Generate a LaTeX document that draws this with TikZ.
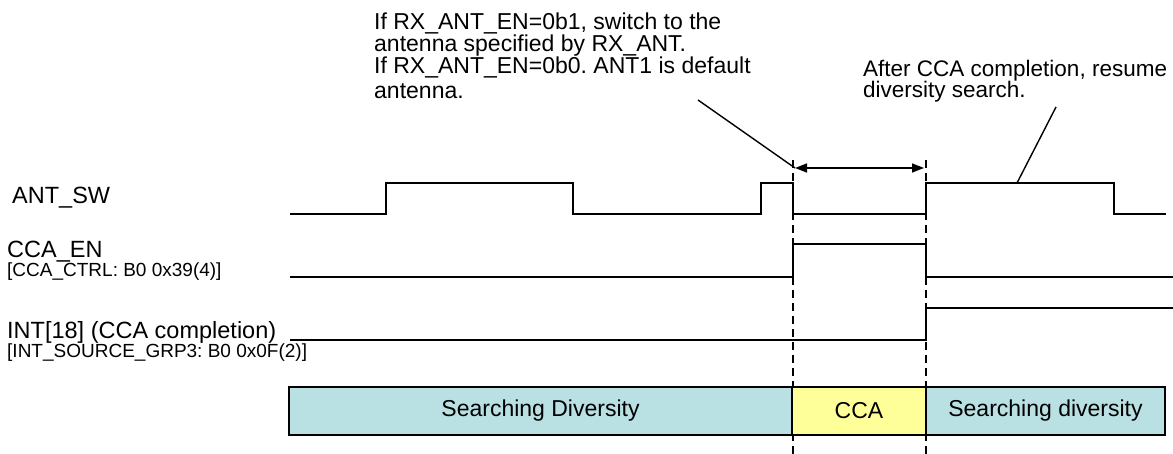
\documentclass[tikz,border=0pt]{standalone}
\usepackage{fontspec}
\setmainfont{Liberation Sans}
\usetikzlibrary{arrows.meta,positioning}
\definecolor{PhaseBlue}{HTML}{B9E0E3}
\definecolor{PhaseYellow}{HTML}{FFFF99}
\frenchspacing

\begin{document}
\begin{tikzpicture}[x=1pt,y=-1pt,
    sig/.style={line width=1.8pt},
    guide/.style={line width=1.6pt,dash pattern=on 8pt off 5pt},
    span/.style={{Triangle[length=12pt,width=9pt]}-{Triangle[length=12pt,width=9pt]},
      line width=1.6pt},
    callout/.style={line width=1.4pt},
    lbl/.style={anchor=base west,inner sep=0pt,font=\fontsize{23.5}{23.5}\selectfont},
    reg/.style={anchor=base west,inner sep=0pt,font=\fontsize{19}{19}\selectfont},
    note/.style={anchor=north west,inner sep=0pt,align=left,
      font=\fontsize{23}{22}\selectfont},
    phase/.style={draw,line width=1.8pt,minimum height=48pt,inner sep=0pt,
      outer sep=0pt,anchor=west,font=\fontsize{23}{23}\selectfont}]
  \useasboundingbox (0,0) rectangle (1173,454);

  % CCA window markers
  \coordinate (ccaon) at (793,160);
  \coordinate (ccaonend) at (793,454);
  \coordinate (ccaoff) at (926,160);
  \coordinate (ccaoffend) at (926,454);
  \draw[guide] (ccaon) -- (ccaonend);
  \draw[guide] (ccaoff) -- (ccaoffend);

  % signals
  \node[lbl] (antsw) at (12,204) {ANT\_SW};
  \draw[sig] (290,214) -| (386,183) -| (573,214) -| (761,183) -| (793,214)
    -| (926,183) -| (1114,214) -- (1166,214);

  \node[lbl] (ccaen) at (7,258) {CCA\_EN};
  \node[reg] (ccactrl) at (7,277) {[CCA\_CTRL: B0 0x39(4)]};
  \draw[sig] (290,277) -| (793,244) -| (926,277) -- (1173,277);

  \node[lbl] (intcca) at (7,338) {INT[18] (CCA completion)};
  \node[reg] (intsrc) at (7,357) {[INT\_SOURCE\_GRP3: B0 0x0F(2)]};
  \draw[sig] (290,340) -| (926,308) -- (1173,308);

  % phase bar
  \node[phase,fill=PhaseBlue,minimum width=503pt] (search1) at (289,411)
    {Searching Diversity};
  \node[phase,fill=PhaseYellow,minimum width=134pt,right=0pt of search1] (cca)
    {CCA};
  \node[phase,fill=PhaseBlue,minimum width=239pt,right=0pt of cca] (search2)
    {Searching diversity};

  % notes
  \coordinate (spanl) at (795,168);
  \coordinate (spanr) at (924,168);
  \draw[span] (spanl) -- (spanr);

  \node[note] (rxnote) at (374,13)
    {If RX\_ANT\_EN=0b1, switch to the\\antenna specified by RX\_ANT.\\
     If RX\_ANT\_EN=0b0. ANT1 is default\\[3pt]antenna.};
  \coordinate (rxtail) at (698,100);
  \draw[callout] (rxtail) -- (spanl);

  \node[note,font=\fontsize{22.5}{21}\selectfont] (resumenote) at (863,60)
    {After CCA completion, resume\\diversity search.};
  \coordinate (resumetail) at (1056,107);
  \coordinate (resumehead) at (1017,183);
  \draw[callout] (resumetail) -- (resumehead);
\end{tikzpicture}
\end{document}
